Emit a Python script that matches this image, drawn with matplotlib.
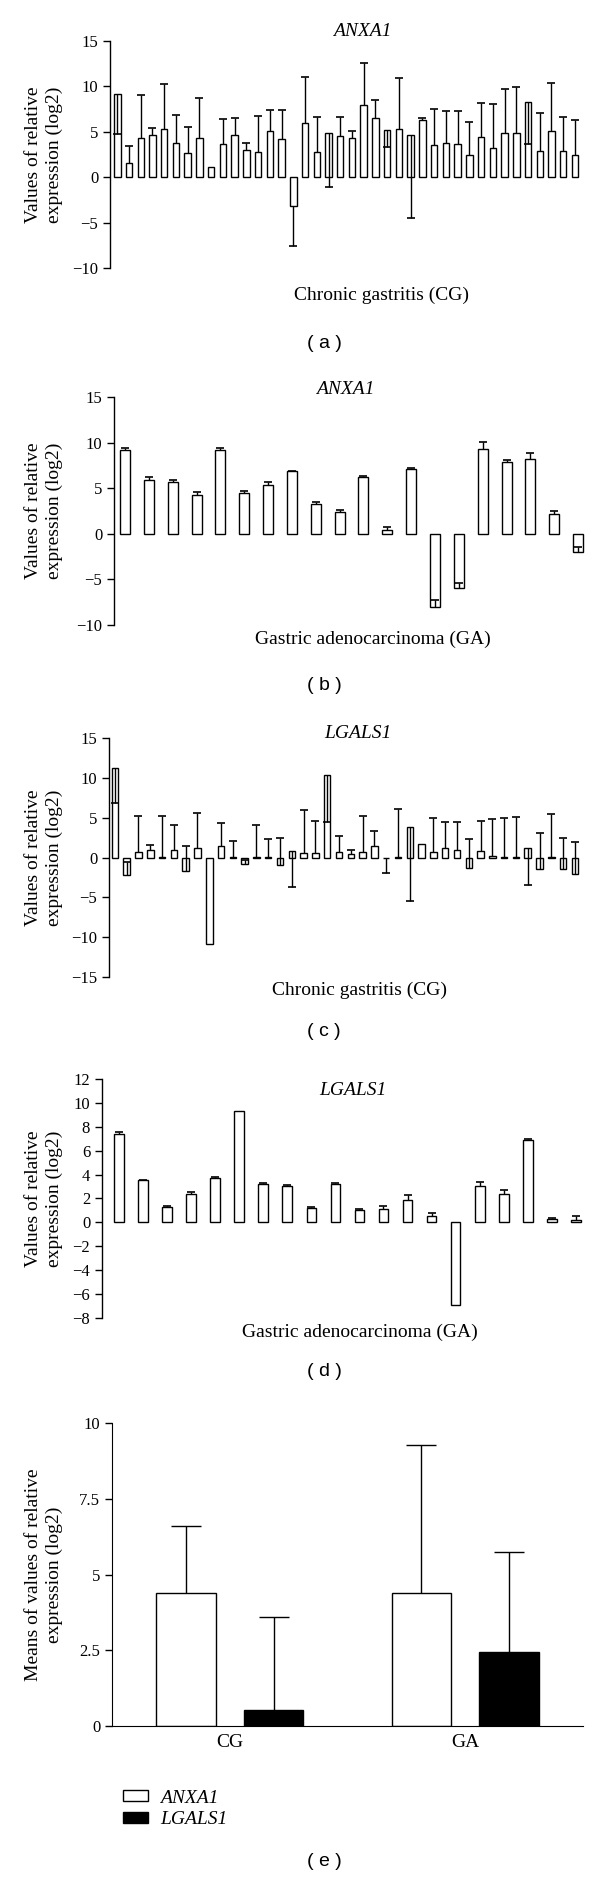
import numpy as np
import matplotlib.pyplot as plt
from matplotlib.patches import Patch

plt.rcParams['font.family'] = ['Liberation Serif', 'DejaVu Serif']
plt.rcParams['font.size'] = 12

# (a) ANXA1, chronic gastritis: bar value and error-bar end per sample
anxa1_cg = [9.2, 1.6, 4.3, 4.7, 5.35, 3.8, 2.7, 4.37, 1.16, 3.64, 4.7, 3.0, 2.8, 5.1, 4.2,
            -3.2, 5.93, 2.77, 4.84, 4.55, 4.37, 7.9, 6.48, 5.2, 5.28, 4.66, 6.26, 3.57, 3.82, 3.71,
            2.47, 4.4, 3.17, 4.84, 4.9, 8.27, 2.84, 5.06, 2.9, 2.44]
anxa1_cg_end = [4.8, 3.45, 9.0, 5.4, 10.3, 6.85, 5.55, 8.75, 1.16, 6.45, 6.5, 3.75, 6.75, 7.45, 7.45,
                -7.55, 11.07, 6.6, -1.13, 6.6, 5.1, 12.57, 8.45, 3.35, 10.96, -4.45, 6.5, 7.46, 7.25, 7.25,
                6.11, 8.15, 8.05, 9.72, 9.9, 3.67, 7.06, 10.34, 6.6, 6.3]

# (b) ANXA1, gastric adenocarcinoma
anxa1_ga = [9.23, 5.95, 5.69, 4.3, 9.16, 4.45, 5.4, 6.86, 3.32, 2.41, 6.2, 0.4, 7.15, -8.0, -5.9,
            9.3, 7.88, 8.2, 2.15, -2.04]
anxa1_ga_end = [9.45, 6.28, 5.95, 4.56, 9.42, 4.67, 5.69, 6.93, 3.47, 2.63, 6.35, 0.7, 7.26, -7.3, -5.4,
                10.1, 8.1, 8.87, 2.48, -1.5]

# (c) LGALS1, chronic gastritis
lgals1_cg = [11.2, -2.2, 0.72, 0.93, 0.1, 0.97, -1.7, 1.14, -10.84, 1.4, 0.1, -0.8, 0.1, 0.1, -0.9,
             0.85, 0.55, 0.55, 10.4, 0.67, 0.4, 0.63, 1.48, -0.05, 0.1, 3.8, 1.65, 0.67, 1.14, 1.0,
             -1.35, 0.84, 0.2, 0.1, 0.05, 1.2, -1.45, 0.1, -1.5, -2.05]
lgals1_cg_end = [6.9, -0.6, 5.2, 1.6, 5.15, 4.1, 1.5, 5.6, -10.84, 4.35, 2.1, -0.3, 4.1, 2.36, 2.4,
                 -3.7, 5.9, 4.64, 4.4, 2.7, 1.0, 5.2, 3.3, -1.9, 6.1, -5.5, 1.65, 4.9, 4.43, 4.43,
                 2.32, 4.56, 4.8, 4.94, 5.1, -3.4, 3.1, 5.4, 2.5, 1.9]

# (d) LGALS1, gastric adenocarcinoma
lgals1_ga = [7.38, 3.52, 1.31, 2.38, 3.75, 9.29, 3.24, 3.08, 1.2, 3.24, 1.06, 1.15, 1.85, 0.53, -6.95,
             3.02, 2.4, 6.9, 0.3, 0.2]
lgals1_ga_end = [7.55, 3.58, 1.4, 2.55, 3.8, 9.29, 3.3, 3.13, 1.26, 3.3, 1.12, 1.4, 2.27, 0.81, -6.95,
                 3.36, 2.71, 6.97, 0.39, 0.53]

# (e) group means
groups = ['CG', 'GA']
mean_anxa1 = [4.38, 4.4]
mean_anxa1_top = [6.59, 9.28]
mean_lgals1 = [0.52, 2.45]
mean_lgals1_top = [3.59, 5.74]

W, H = 600, 1885
fig = plt.figure(figsize=(W / 100, H / 100), dpi=100)
SANS = ['Liberation Sans', 'DejaVu Sans']


def rect(left, right, top, bottom):
    return [left / W, 1 - bottom / H, (right - left) / W, (bottom - top) / H]


def ftext(x, y, s, **kw):
    fig.text(x / W, 1 - y / H, s, ha='center', va='center', **kw)


def sample_panel(r, vals, ends, width, xlim, ylim, yticks, title, xlabel, tpos, xpos, lpos, tag):
    ax = fig.add_axes(r)
    vals = np.array(vals)
    ends = np.array(ends)
    x = np.arange(len(vals))
    ax.bar(x, vals, width, color='white', edgecolor='black', linewidth=1.0)
    has = ends != vals
    ax.vlines(x[has], vals[has], ends[has], color='black', lw=1.0)
    ax.plot(x[has], ends[has], ls='none', marker='_', ms=6, mew=1.2, color='black')
    ax.set_xlim(*xlim)
    ax.set_ylim(*ylim)
    ax.set_yticks(yticks)
    ax.set_xticks([])
    for s in ['top', 'right', 'bottom']:
        ax.spines[s].set_visible(False)
    ax.spines['left'].set_linewidth(1.0)
    ax.tick_params(axis='y', direction='out', length=5, width=1.0, labelsize=12)
    ax.set_ylabel('Values of relative\nexpression (log2)', fontsize=14, linespacing=1.3)
    ax.yaxis.set_label_coords((63 - r[0] * W) / (r[2] * W), 0.5)
    ftext(*tpos, title, style='italic', fontsize=14)
    ftext(*xpos, xlabel, fontsize=14)
    ftext(324, lpos, tag, family=SANS, fontsize=14)
    return ax


sample_panel(rect(110, 582, 41, 268), anxa1_cg, anxa1_cg_end, 0.55, (-0.62, 39.6), (-10, 15),
             [-10, -5, 0, 5, 10, 15], 'ANXA1', 'Chronic gastritis (CG)', (362, 31), (382, 295), 343, '( a )')
sample_panel(rect(114, 590, 397, 625), anxa1_ga, anxa1_ga_end, 0.42, (-0.46, 19.5), (-10, 15),
             [-10, -5, 0, 5, 10, 15], 'ANXA1', 'Gastric adenocarcinoma (GA)', (345, 389), (373, 639), 685, '( b )')
sample_panel(rect(109, 582, 738, 977), lgals1_cg, lgals1_cg_end, 0.55, (-0.5, 39.6), (-15, 15),
             [-15, -10, -5, 0, 5, 10, 15], 'LGALS1', 'Chronic gastritis (CG)', (358, 733), (360, 990), 1031, '( c )')
sample_panel(rect(102, 588, 1079, 1318), lgals1_ga, lgals1_ga_end, 0.4, (-0.7, 19.5), (-8, 12),
             list(range(-8, 13, 2)), 'LGALS1', 'Gastric adenocarcinoma (GA)', (353, 1090), (360, 1332), 1372, '( d )')

# (e) means
ax = fig.add_axes(rect(112, 583, 1423, 1726))
gx = np.arange(len(groups))
off, bw = 0.186, 0.253
ax.bar(gx - off, mean_anxa1, bw, color='white', edgecolor='black', linewidth=1.0)
ax.bar(gx + off, mean_lgals1, bw, color='black', edgecolor='black', linewidth=1.0)
ax.vlines(gx - off, mean_anxa1, mean_anxa1_top, color='black', lw=1.0)
ax.vlines(gx + off, mean_lgals1, mean_lgals1_top, color='black', lw=1.0)
ax.plot(gx - off, mean_anxa1_top, ls='none', marker='_', ms=21, mew=1.0, color='black')
ax.plot(gx + off, mean_lgals1_top, ls='none', marker='_', ms=21, mew=1.0, color='black')
ax.set_xlim(-0.5, 1.5)
ax.set_ylim(0, 10)
ax.set_yticks([0, 2.5, 5, 7.5, 10])
ax.set_yticklabels(['0', '2.5', '5', '7.5', '10'])
ax.set_xticks(gx)
ax.set_xticklabels(groups)
for s in ['top', 'right']:
    ax.spines[s].set_visible(False)
ax.tick_params(axis='y', direction='out', length=5, width=1.0, labelsize=12)
ax.tick_params(axis='x', length=0, labelsize=14, pad=6)
ax.set_ylabel('Means of values of relative\nexpression (log2)', fontsize=14, linespacing=1.3)
ax.yaxis.set_label_coords((63 - 112) / (583 - 112), 0.5)
handles = [Patch(facecolor='white', edgecolor='black', lw=1.0), Patch(facecolor='black', edgecolor='black')]
fig.legend(handles, ['ANXA1', 'LGALS1'], loc='center left', bbox_to_anchor=(105 / W, 1 - 1809 / H),
           frameon=False, prop={'style': 'italic', 'size': 14}, handlelength=1.3, handleheight=0.46,
           labelspacing=0.24, handletextpad=0.62)
ftext(324, 1861, '( e )', family=SANS, fontsize=14)

fig.savefig('out.png', dpi=100)
